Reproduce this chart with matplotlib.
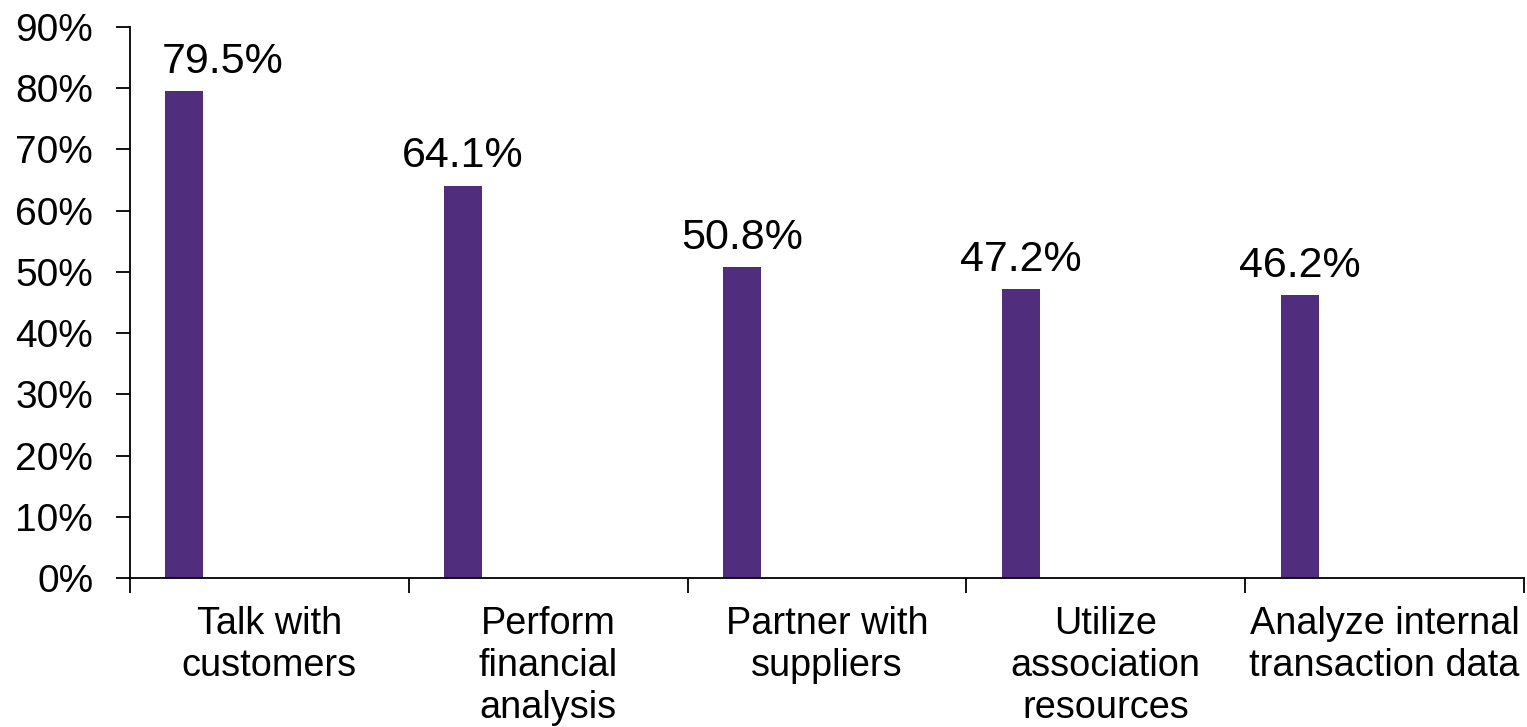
import numpy as np
import matplotlib
matplotlib.use("Agg")
import matplotlib.pyplot as plt

plt.rcParams['font.family'] = ['Liberation Sans', 'DejaVu Sans']

# datos
categorias = ['Talk with\ncustomers', 'Perform\nfinancial\nanalysis', 'Partner with\nsuppliers',
              'Utilize\nassociation\nresources', 'Analyze internal\ntransaction data']
valores = [79.5, 64.1, 50.8, 47.2, 46.2]
etiquetas = ['79.5%', '64.1%', '50.8%', '47.2%', '46.2%']

color_barra = '#512D7D'

fig = plt.figure(figsize=(15.27, 7.27), dpi=100)
ax = fig.add_axes([130 / 1527, 149 / 727, 1394 / 1527, 551 / 727])

x = np.arange(len(categorias))
desplaz = -0.305
ancho = 0.136
ax.bar(x + desplaz, valores, width=ancho, color=color_barra, zorder=2)

# etiquetas de valor
for i, (v, t) in enumerate(zip(valores, etiquetas)):
    if i == 0:
        ax.text(x[i] + desplaz - ancho / 2 - 0.012, v + 1.5, t, ha='left', va='bottom', fontsize=31)
    else:
        ax.text(x[i] + desplaz, v + 1.5, t, ha='center', va='bottom', fontsize=31)

ax.set_xlim(-0.5, len(categorias) - 0.5)
ax.set_ylim(0, 90)
ax.set_yticks(np.arange(0, 91, 10))
ax.set_yticklabels([f'{v}%' for v in range(0, 91, 10)], fontsize=28)
ax.tick_params(axis='y', direction='out', length=10, width=1.3, pad=16.5)

ax.set_xticks(x)
ax.set_xticklabels(categorias, fontsize=27.3, linespacing=1.22)
ax.set_xticks(np.arange(-0.5, len(categorias)), minor=True)
ax.tick_params(axis='x', which='major', length=0, pad=20)
ax.tick_params(axis='x', which='minor', direction='out', length=11, width=1.3)

for s in ['top', 'right']:
    ax.spines[s].set_visible(False)
for s in ['left', 'bottom']:
    ax.spines[s].set_linewidth(1.3)

fig.savefig('out.png', dpi=100)
